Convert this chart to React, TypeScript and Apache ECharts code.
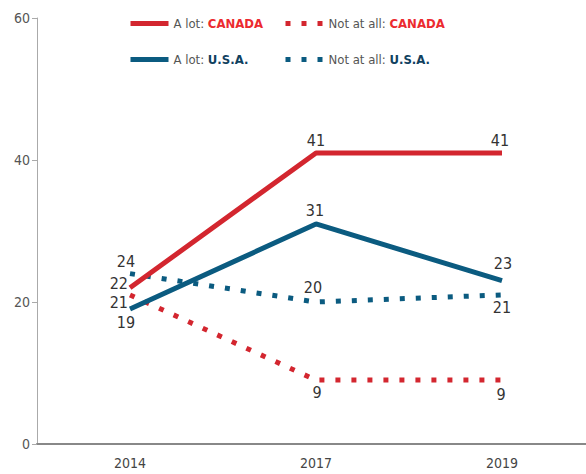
import React, { useEffect, useRef } from "react";
import * as echarts from "echarts";

const years = ["2014", "2017", "2019"];
const canadaALot = [22, 41, 41];
const canadaNotAtAll = [21, 9, 9];
const usaALot = [19, 31, 23];
const usaNotAtAll = [24, 20, 21];
const yMin = 0;
const yMax = 60;
const yStep = 20;

const FONT = '"DejaVu Sans Condensed", "Liberation Sans Narrow", "Roboto Condensed", Roboto, sans-serif';
const RED = "#d3262f";
const BLUE = "#0b5b80";
const RED_TXT = "#ec2a2f";
const BLUE_TXT = "#10415f";

type LP = { position: any; distance: number; offset: [number, number] };

const placeCanadaALot: LP[] = [
  { position: "left", distance: 2, offset: [0, -4] },
  { position: "top", distance: 4, offset: [0, 0] },
  { position: "top", distance: 4, offset: [-2, 0] },
];
const placeCanadaNot: LP[] = [
  { position: "left", distance: 2, offset: [0, 8] },
  { position: "bottom", distance: 4, offset: [1, 0] },
  { position: "bottom", distance: 6, offset: [-1, 0] },
];
const placeUsaALot: LP[] = [
  { position: "bottom", distance: 5, offset: [-4, 0] },
  { position: "top", distance: 5, offset: [-1, 0] },
  { position: "top", distance: 9, offset: [1, 0] },
];
const placeUsaNot: LP[] = [
  { position: "top", distance: 4, offset: [-4, 0] },
  { position: "top", distance: 7, offset: [-3, 0] },
  { position: "bottom", distance: 5, offset: [0, 0] },
];

function mkSeries(name: string, values: number[], color: string, dotted: boolean, places: LP[], z: number) {
  return {
    name,
    type: "line",
    symbol: "circle",
    symbolSize: 0,
    showSymbol: true,
    z,
    data: values.map((v, i) => ({ value: v, label: { show: true, ...places[i] } })),
    lineStyle: { color, width: 5, type: dotted ? [5, 11] : "solid", cap: "butt" },
    itemStyle: { color },
    label: { show: true, color: "#333", fontSize: 16, fontFamily: FONT },
    emphasis: { disabled: true },
  };
}

const LEG_FS = 13;
const legendRich = {
  t: { fontFamily: FONT, fontSize: LEG_FS, color: "#555" },
  c: { fontFamily: FONT, fontSize: LEG_FS, fontWeight: "bold", color: RED_TXT },
  u: { fontFamily: FONT, fontSize: LEG_FS, fontWeight: "bold", color: BLUE_TXT },
};

function legendFormatter(name: string) {
  const idx = name.indexOf(": ");
  const a = name.slice(0, idx + 2);
  const b = name.slice(idx + 2);
  return `{t|${a}}{${b === "CANADA" ? "c" : "u"}|${b}}`;
}

function mkLegend(data: string[], left: number) {
  return {
    data,
    left,
    top: 17,
    padding: 0,
    orient: "vertical",
    itemWidth: 38,
    itemHeight: 14,
    itemGap: 23,
    itemTextGap: 4,
    selectedMode: false,
    itemStyle: { opacity: 0, borderWidth: 0 },
    lineStyle: { width: 5 },
    formatter: legendFormatter,
    textStyle: { fontFamily: FONT, fontSize: LEG_FS, color: "#555", rich: legendRich },
  };
}

export default function App() {
  const ref = useRef<HTMLDivElement>(null);
  useEffect(() => {
    if (!ref.current) return;
    const chart = echarts.init(ref.current, undefined, { renderer: "svg" });
    chart.setOption({
      animation: false,
      backgroundColor: "#ffffff",
      grid: { left: 37, right: -9, top: 18, bottom: 30, containLabel: false, outerBoundsMode: "none" },
      legend: [
        mkLegend(["A lot: CANADA", "A lot: U.S.A."], 128),
        mkLegend(["Not at all: CANADA", "Not at all: U.S.A."], 283),
      ],
      xAxis: {
        type: "category",
        data: years,
        boundaryGap: true,
        axisLine: { show: true, lineStyle: { color: "#888", width: 2 } },
        axisTick: { show: false },
        axisLabel: { color: "#444", fontSize: 14, fontFamily: FONT, margin: 12 },
        splitLine: { show: false },
      },
      yAxis: {
        type: "value",
        min: yMin,
        max: yMax,
        interval: yStep,
        axisLine: { show: true, lineStyle: { color: "#aaa", width: 1 } },
        axisTick: { show: true, length: 5, lineStyle: { color: "#aaa" } },
        axisLabel: { color: "#555", fontSize: 14, fontFamily: FONT, margin: 7 },
        splitLine: { show: false },
      },
      series: [
        mkSeries("Not at all: U.S.A.", usaNotAtAll, BLUE, true, placeUsaNot, 2),
        mkSeries("Not at all: CANADA", canadaNotAtAll, RED, true, placeCanadaNot, 3),
        mkSeries("A lot: U.S.A.", usaALot, BLUE, false, placeUsaALot, 4),
        mkSeries("A lot: CANADA", canadaALot, RED, false, placeCanadaALot, 5),
      ],
    });
    return () => chart.dispose();
  }, []);
  return (
    <div
      ref={ref}
      style={{ position: "fixed", left: 0, top: 0, width: 586, height: 474, background: "#fff" }}
    />
  );
}
